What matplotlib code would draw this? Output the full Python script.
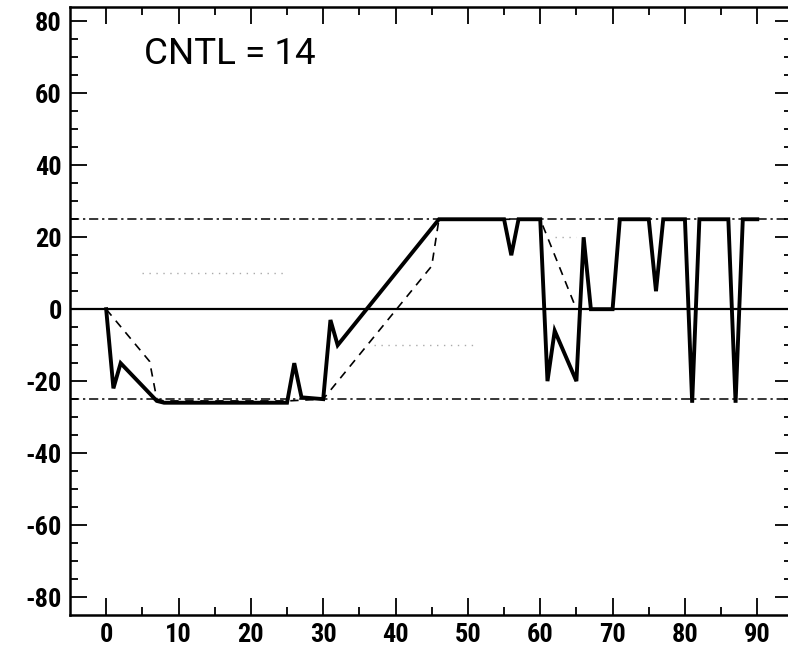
import numpy as np
import matplotlib.pyplot as plt
from matplotlib import font_manager

# solid (thick) series
x_solid = [0, 1, 2, 7, 8, 25, 26, 27, 30, 31, 32, 46, 55, 56, 57, 60, 61, 62, 65, 66,
           67, 70, 71, 75, 76, 77, 80, 81, 82, 86, 87, 88, 90]
y_solid = [0, -22, -15, -25.5, -26, -26, -15, -24.5, -25, -3, -10, 25, 25, 15, 25, 25, -20, -6, -20, 20,
           0, 0, 25, 25, 5, 25, 25, -26, 25, 25, -26, 25, 25]

# dashed series
x_dash = [0, 6, 7, 8, 25, 30, 45, 46, 60, 65]
y_dash = [0, -14.5, -25, -25.5, -25.5, -25, 12, 25, 25, 0]

# faint dotted pieces
x_dot = [5, 25, np.nan, 37, 51, np.nan, 62, 65]
y_dot = [10, 10, np.nan, -10, -10, np.nan, 20, 20]

limit = 25
label_text = "CNTL = 14"

# look for a narrow face, else plain Liberation Sans
fam = 'Liberation Sans'
for cand in ['Roboto Condensed', 'Open Sans Condensed', 'Liberation Sans Narrow', 'DejaVu Sans Condensed']:
    try:
        font_manager.findfont(cand, fallback_to_default=False)
        fam = cand
        break
    except ValueError:
        pass
plt.rcParams['font.family'] = [fam, 'DejaVu Sans']

fig = plt.figure(figsize=(7.88, 6.5), dpi=100)
ax = fig.add_axes([70 / 788, 1 - 615 / 650, 722 / 788, 608 / 650])

ax.axhline(0, color='black', lw=1.6)
ax.axhline(limit, color='black', lw=1.1, ls=(0, (6, 2.5, 1.5, 2.5)))
ax.axhline(-limit, color='black', lw=1.1, ls=(0, (6, 2.5, 1.5, 2.5)))

ax.plot(x_dot, y_dot, color='#aaaaaa', lw=1.0, ls=(0, (1, 4)))
ax.plot(x_dash, y_dash, color='black', lw=1.2, ls=(0, (5, 4)))
ax.plot(x_solid, y_solid, color='black', lw=2.8, solid_joinstyle='miter')

ax.set_xlim(-5, 94.8)
ax.set_ylim(-85, 84)

ax.set_xticks(np.arange(0, 91, 10))
ax.set_xticks(np.arange(0, 91, 5), minor=True)
ax.set_yticks(np.arange(-80, 81, 20))
ax.set_yticks(np.arange(-80, 81, 5), minor=True)
ax.set_yticklabels(['-80', '-60', '-40', '-20', '0', '20', '40', '60', '80'])

fs = 19 if fam != 'Liberation Sans' else 17
ax.tick_params(which='both', direction='in', top=True, right=True, width=1.3,
               labelsize=fs, labelcolor='black')
ax.tick_params(which='major', length=12, pad=6)
ax.tick_params(which='minor', length=6)
for lab in ax.get_xticklabels() + ax.get_yticklabels():
    lab.set_fontweight('bold')

for s in ax.spines.values():
    s.set_linewidth(1.8)

ax.text(0.103, 0.952, label_text, transform=ax.transAxes,
        family=['Roboto', 'DejaVu Sans'], fontsize=26.5, va='top', ha='left')

fig.savefig('out.png', dpi=100)
